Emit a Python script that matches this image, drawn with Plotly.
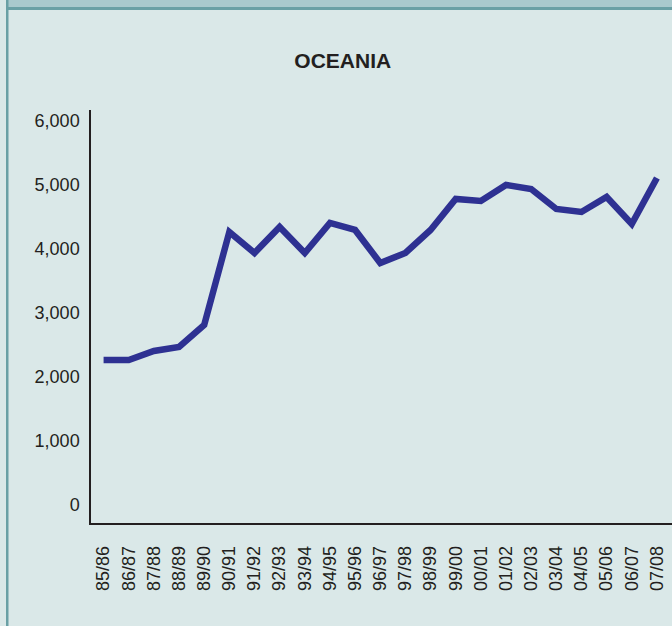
import plotly.graph_objects as go

seasons = [
    '85/86', '86/87', '87/88', '88/89', '89/90', '90/91', '91/92', '92/93',
    '93/94', '94/95', '95/96', '96/97', '97/98', '98/99', '99/00', '00/01',
    '01/02', '02/03', '03/04', '04/05', '05/06', '06/07', '07/08',
]
values = [
    2266, 2266, 2406, 2469, 2812, 4266, 3937, 4344, 3937, 4406, 4297,
    3781, 3937, 4297, 4781, 4750, 5000, 4937, 4625, 4578, 4812, 4390, 5109,
]
y_ticks = [0, 1000, 2000, 3000, 4000, 5000, 6000]

W, H = 672, 626
L, R, T, B = 91, 0, 110, 103
pw, ph = W - L - R, H - T - B
BG = '#dae8e8'
FONT = 'Liberation Sans, Arial, sans-serif'


def px_x(p):
    return (p - L) / pw


def px_y(p):
    return (H - B - p) / ph


idx = list(range(len(seasons)))

fig = go.Figure(
    go.Scatter(
        x=idx,
        y=values,
        mode='lines',
        line=dict(color='#2e3192', width=6.5),
        hoverinfo='skip',
    )
)

fig.update_layout(
    width=W,
    height=H,
    margin=dict(l=L, r=R, t=T, b=B),
    paper_bgcolor=BG,
    plot_bgcolor=BG,
    showlegend=False,
    font=dict(family=FONT, size=18, color='#231f20'),
    title=dict(
        text='<b>OCEANIA</b>',
        x=0.51,
        xanchor='center',
        y=1 - 61 / H,
        yanchor='middle',
        font=dict(family=FONT, size=21, color='#231f20'),
    ),
    xaxis=dict(
        range=[-0.5, 22.6],
        tickmode='array',
        tickvals=idx,
        ticktext=seasons,
        tickangle=-90,
        showgrid=False,
        zeroline=False,
        showline=True,
        linecolor='#231f20',
        linewidth=1.5,
        ticks='',
        ticklabelstandoff=14,
    ),
    yaxis=dict(
        range=[-280, 6170],
        tickmode='array',
        tickvals=y_ticks,
        ticktext=[f'{v:,}' for v in y_ticks],
        showgrid=False,
        zeroline=False,
        showline=True,
        linecolor='#231f20',
        linewidth=1.5,
        ticks='',
        ticklabelstandoff=6,
    ),
    shapes=[
        # top band
        dict(type='rect', xref='paper', yref='paper',
             x0=px_x(6), x1=px_x(W), y0=px_y(0), y1=px_y(8),
             fillcolor='#a9c9cd', line=dict(width=0), layer='above'),
        dict(type='rect', xref='paper', yref='paper',
             x0=px_x(6), x1=px_x(W), y0=px_y(7), y1=px_y(10),
             fillcolor='#6aa0a5', line=dict(width=0), layer='above'),
        # left border
        dict(type='rect', xref='paper', yref='paper',
             x0=px_x(6), x1=px_x(8.5), y0=px_y(0), y1=px_y(H),
             fillcolor='#6aa0a5', line=dict(width=0), layer='above'),
    ],
)

# drop the default page margin so the figure sits at the window's corner
fig.write_html(
    'out.html',
    config={'displayModeBar': False},
    post_script="document.body.style.margin='0';",
)
